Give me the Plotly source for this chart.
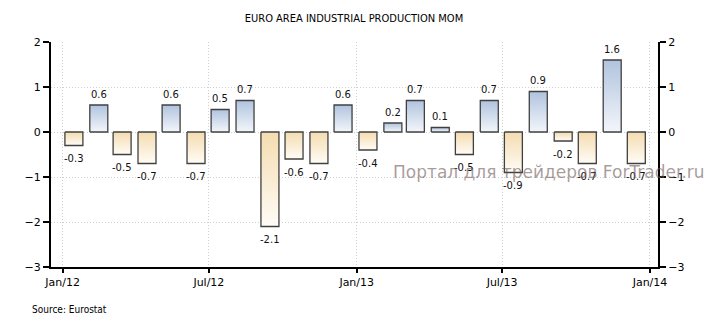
import pandas as pd
import plotly.graph_objects as go

# ---------------- data ----------------
months = ["2012-01", "2012-02", "2012-03", "2012-04", "2012-05", "2012-06",
          "2012-07", "2012-08", "2012-09", "2012-10", "2012-11", "2012-12",
          "2013-01", "2013-02", "2013-03", "2013-04", "2013-05", "2013-06",
          "2013-07", "2013-08", "2013-09", "2013-10", "2013-11", "2013-12"]
values = [-0.3, 0.6, -0.5, -0.7, 0.6, -0.7, 0.5, 0.7, -2.1, -0.6, -0.7, 0.6,
          -0.4, 0.2, 0.7, 0.1, -0.5, 0.7, -0.9, 0.9, -0.2, -0.7, 1.6, -0.7]
tick_dates = ["2012-01-01", "2012-07-01", "2013-01-01", "2013-07-01", "2014-01-01"]
tick_labels = ["Jan/12", "Jul/12", "Jan/13", "Jul/13", "Jan/14"]
y_ticks = [-3, -2, -1, 0, 1, 2]
title_text = "EURO AREA INDUSTRIAL PRODUCTION MOM"
source_text = "Source: Eurostat"
watermark_text = "Портал для трейдеров ForTrader.ru"

# ---------------- style ----------------
BAR_HALF = pd.Timedelta(days=11.2)
POS_SCALE = [[0, "#f3f6fb"], [1, "#b0c3de"]]
NEG_SCALE = [[0, "#fffcf6"], [1, "#f4dcb0"]]
EDGE = "#404040"
GRID = "#cfcfcf"
GRID_DASH = "1px,2px"
FONT = "DejaVu Sans, Verdana, sans-serif"
FONT_C = "DejaVu Sans Condensed, Liberation Sans Narrow, sans-serif"

dates = [pd.Timestamp(m + "-15") for m in months]

fig = go.Figure()
for d, v in zip(dates, values):
    x0, x1 = d - BAR_HALF, d + BAR_HALF
    fig.add_trace(go.Scatter(
        x=[x0, x0, x1, x1, x0], y=[0, v, v, 0, 0],
        mode="lines", fill="toself",
        fillgradient=dict(type="vertical", colorscale=POS_SCALE if v > 0 else NEG_SCALE),
        line=dict(color=EDGE, width=1.3),
        hoverinfo="skip", showlegend=False,
    ))
    fig.add_annotation(
        x=d, y=v, text=f"{v:.1f}", showarrow=False,
        yanchor="middle", yshift=11 if v > 0 else -13,
        font=dict(family=FONT, size=10, color="#111111"),
    )

# invisible trace for right axis
fig.add_trace(go.Scatter(x=[dates[0]], y=[0], yaxis="y2", mode="markers",
                         marker=dict(opacity=0), hoverinfo="skip", showlegend=False))

fig.add_annotation(text=watermark_text, xref="paper", yref="paper",
                   x=0.821, y=0.422, showarrow=False, xanchor="center", yanchor="middle",
                   font=dict(family=FONT, size=17, color="rgba(110,88,88,0.6)"))
fig.add_annotation(text=source_text, xref="paper", yref="paper",
                   x=-0.0346, y=-0.19, showarrow=False, xanchor="left", yanchor="middle",
                   font=dict(family=FONT_C, size=10, color="#000000"))

axis_y = dict(range=[-3, 2], tickvals=y_ticks, ticks="outside", ticklen=6,
              tickwidth=1.5, tickcolor="#000", showline=True, linecolor="#000",
              linewidth=2, zeroline=False, fixedrange=True,
              tickfont=dict(family=FONT, size=11, color="#000"))

fig.update_layout(
    width=710, height=325,
    margin=dict(l=51, r=52, t=42, b=58),
    paper_bgcolor="white", plot_bgcolor="white",
    title=dict(text=title_text, x=0.4986, xref="container", xanchor="center",
               y=1 - 18 / 325, yref="container", yanchor="middle",
               font=dict(family=FONT_C, size=11, color="#000")),
    xaxis=dict(type="date", range=["2011-12-17 12:00", "2014-01-11"],
               tickvals=tick_dates, ticktext=tick_labels,
               ticks="outside", ticklen=4, tickwidth=1.5, tickcolor="#000",
               showline=True, linecolor="#000", linewidth=2,
               showgrid=True, gridcolor=GRID, griddash=GRID_DASH, gridwidth=1,
               zeroline=False, tickfont=dict(family=FONT, size=11, color="#000")),
    yaxis=dict(**axis_y, side="left", showgrid=True, gridcolor=GRID,
               griddash=GRID_DASH, gridwidth=1),
    yaxis2=dict(**axis_y, side="right", overlaying="y", showgrid=False),
)

fig.write_html("out.html")
